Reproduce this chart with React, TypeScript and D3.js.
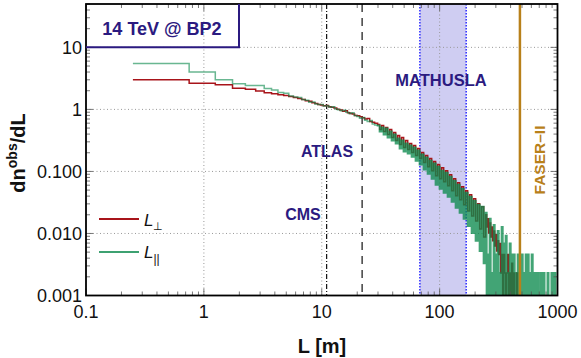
import React from 'react';
import * as d3 from 'd3';

// histogram of observed decay length, 14 TeV @ BP2
// step starts (m) and dn/dL values, read off the figure

const perpL = [0.25, 0.75, 1.25, 1.75, 2.25, 2.75, 3.25, 3.75, 4.25, 4.75, 5.25, 5.75, 6.25, 6.75, 7.25, 7.75, 8.25, 8.75, 9.25,
  9.75, 10.3, 10.8, 11.4, 12.0, 12.7, 13.4, 14.2, 15.0, 15.7, 16.5, 17.3, 18.2, 19.0, 20.0, 21.0, 22.0, 23.1, 24.3, 25.5, 26.8, 28.1];
const perpV = [3.0, 2.65, 2.5, 2.2, 2.12, 1.98, 1.85, 1.78, 1.72, 1.68, 1.62, 1.55, 1.5, 1.45, 1.38, 1.35, 1.28, 1.25, 1.2,
  1.18, 1.14, 1.16, 1.1, 1.08, 1.05, 1.01, 0.98, 0.93, 0.95, 0.88, 0.86, 0.84, 0.8, 0.79, 0.76, 0.73, 0.7, 0.71, 0.64, 0.62, 0.6];

const parL = [0.25, 0.75, 1.25, 1.75, 2.25, 2.75, 3.25, 3.75, 4.25, 4.75, 5.25, 5.75, 6.25, 6.75, 7.25, 7.75, 8.25, 8.75, 9.25,
  9.75, 10.3, 10.9, 11.5, 12.2, 12.9, 13.6, 14.4, 15.2, 16.0, 16.9, 17.8, 18.8, 19.8, 20.9, 22.0, 23.1, 24.3, 25.5, 26.8, 28.1];
const parV = [5.5, 4.0, 3.0, 2.6, 2.42, 2.42, 2.17, 2.05, 1.88, 1.82, 1.65, 1.58, 1.55, 1.45, 1.4, 1.3, 1.32, 1.22, 1.2,
  1.2, 1.13, 1.15, 1.08, 1.1, 1.02, 0.99, 0.95, 0.97, 0.9, 0.86, 0.88, 0.8, 0.77, 0.72, 0.74, 0.67, 0.64, 0.66, 0.58, 0.56];

// the noisy tail (shared L positions for both series)
const tailL = [29.8, 31.0, 32.2, 33.5, 34.9, 36.2, 37.7, 39.2, 40.8, 42.4, 44.1, 45.8, 47.6, 49.5, 51.5, 53.6, 55.7, 57.9,
  60.2, 62.6, 65.1, 67.7, 70.4, 73.2, 76.1, 79.2, 82.3, 85.6, 89.0, 92.5, 96.2, 100, 104, 108.2, 112.5, 117, 121.6, 126.5,
  131.5, 136.8, 142.2, 147.9, 153.8, 159.9, 166.3, 172.9, 179.8, 187, 194.4, 202.2, 210.2, 218.6, 227.3, 236.4,
  245.8, 250.6, 255.6, 260.6, 265.8, 271.0, 276.4, 281.8, 287.4, 293.1, 298.9, 304.8, 310.8, 316.9, 323.2, 329.5, 336.0,
  342.7, 349.4, 356.3, 363.4, 370.5, 377.8, 385.3, 392.9, 400.6, 408.6, 416.6, 424.8, 433.2, 441.8, 450.5, 459.4, 468.4,
  477.7, 487.1, 496.7, 506.5, 516.5, 526.7, 537.1, 547.7, 558.5, 569.5, 580.8, 592.2, 604.0, 615.9, 628.0, 640.4, 653.1,
  666.0, 679.1, 690, 718, 732, 761, 776, 823, 839, 889, 907, 943, 962, 980];

const perpTail = [0.571, 0.474, 0.551, 0.44, 0.511, 0.394, 0.474, 0.352, 0.424, 0.315, 0.379, 0.271, 0.352, 0.242, 0.315,
  0.225, 0.281, 0.201, 0.261, 0.18, 0.234, 0.161, 0.201, 0.139, 0.18, 0.119, 0.161, 0.103, 0.144, 0.0853, 0.129, 0.0763,
  0.115, 0.0682, 0.103, 0.0588, 0.0886, 0.0488, 0.0763, 0.0405, 0.0658, 0.0349, 0.0566, 0.029, 0.0488, 0.0231, 0.0421,
  0.0192, 0.0362, 0.0159, 0.0301, 0.0118, 0.0269, 0.0088,
  0.02, 0.0127, 0.0172, 0.0102, 0.0148, 0.0088, 0.0127, 0.0076, 0.011, 0.0063, 0.0095, 0.0052, 0.0076, 0.0046, 0.0069,
  0.0023, 0.0046, 0, 0.0046, 0.0023, 0, 0.0023, 0.0046, 0, 0.0023, 0, 0.0033, 0, 0.0023, 0, 0, 0.0023, 0, 0, 0];

const parTail = [0.551, 0.44, 0.511, 0.394, 0.492, 0.352, 0.44, 0.315, 0.394, 0.281, 0.339, 0.234, 0.315, 0.209, 0.281,
  0.194, 0.261, 0.173, 0.242, 0.149, 0.217, 0.129, 0.187, 0.107, 0.167, 0.092, 0.149, 0.0763, 0.134, 0.061, 0.119,
  0.0526, 0.103, 0.0453, 0.0955, 0.039, 0.0822, 0.0324, 0.0708, 0.0259, 0.061, 0.0215, 0.0526, 0.0172, 0.0453, 0.0132,
  0.039, 0.0102, 0.0336, 0.0076, 0.029, 0.0052, 0.0269, 0.0033,
  0.0215, 0, 0.0046, 0, 0.0172, 0, 0.0023, 0, 0.0137, 0, 0.0046, 0, 0.011, 0, 0.0023, 0, 0.0127, 0, 0.0069, 0,
  0.0092, 0, 0.0023, 0, 0.0069, 0, 0.0046, 0, 0.0046, 0, 0.0023, 0, 0.0046, 0, 0.0023, 0, 0.0046, 0, 0.0023, 0,
  0.0046, 0, 0.0046, 0, 0.0023, 0, 0.0046, 0, 0.0023, 0, 0.0023, 0, 0.0023,
  0, 0.0023, 0, 0.0023, 0, 0.0023, 0, 0.0023, 0, 0.0023, 0];

const xTicks = [0.1, 1, 10, 100, 1000];
const xTickLabels = ['0.1', '1', '10', '100', '1000'];
const yTicks = [0.001, 0.01, 0.1, 1, 10];
const yTickLabels = ['0.001', '0.010', '0.100', '1', '10'];

const detectorL = [11, 22];
const mathuslaRange = [68, 168];
const faserL = 480;

const W = 581;
const H = 358;
const plot = { left: 86, right: 557.5, top: 4, bottom: 295.5 };

const RED = '#a8141a';
const GREEN = '#0d8a4e';
const NAVY = '#2b1a80';
const GOLD = '#b8801a';
const FONT = 'Liberation Sans, Arial, Helvetica, sans-serif';

type Pt = [number, number];

const x = d3.scaleLog().domain([0.1, 1000]).range([plot.left, plot.right]);
const y = d3.scaleLog().domain([0.001, 50]).range([plot.bottom, plot.top]);
const yPos = (v: number) => (v > 0 ? y(v) : plot.bottom + 1);

const zipPts = (L: number[], V: number[]): Pt[] => V.map((v, i) => [L[i], v] as Pt);

const stepLine = d3.line<Pt>()
  .x(d => x(d[0]))
  .y(d => yPos(d[1]))
  .curve(d3.curveStepAfter);

const minorX: number[] = [];
[0.1, 1, 10, 100].forEach(dec => { for (let k = 2; k <= 9; k++) minorX.push(dec * k); });
const minorY: number[] = [];
[0.001, 0.01, 0.1, 1, 10].forEach(dec => { for (let k = 2; k <= 9; k++) if (dec * k <= 50) minorY.push(dec * k); });

export default function App() {
  // perpendicular: one path
  const perpPts = [...zipPts(perpL, perpV), ...zipPts(tailL, perpTail)];
  perpPts.push([tailL[perpTail.length], perpTail[perpTail.length - 1]]);

  // parallel: smooth head + dense tail drawn a bit thicker
  const parHead = zipPts(parL, parV);
  parHead.push([tailL[0], parV[parV.length - 1]]);
  const parTailPts: Pt[] = [[tailL[0], parV[parV.length - 1]], ...zipPts(tailL, parTail)];
  parTailPts.push([tailL[parTail.length], parTail[parTail.length - 1]]);

  const tickColor = '#555';

  return (
    <svg width={W} height={H} style={{ position: 'absolute', left: 0, top: 0 }} fontFamily={FONT}>
      <defs>
        <clipPath id="plotClip">
          <rect x={plot.left} y={plot.top} width={plot.right - plot.left} height={plot.bottom - plot.top} />
        </clipPath>
      </defs>

      {/* MATHUSLA band */}
      <rect x={x(mathuslaRange[0])} y={plot.top} width={x(mathuslaRange[1]) - x(mathuslaRange[0])}
        height={plot.bottom - plot.top} fill="#cfcdf2" />

      {/* grid */}
      {xTicks.slice(1, -1).map(t => (
        <line key={'gx' + t} x1={x(t)} x2={x(t)} y1={plot.top} y2={plot.bottom}
          stroke="#999" strokeWidth={1} strokeDasharray="1,2.5" />
      ))}
      {yTicks.slice(1).map(t => (
        <line key={'gy' + t} x1={plot.left} x2={plot.right} y1={y(t)} y2={y(t)}
          stroke="#999" strokeWidth={1} strokeDasharray="1,2.5" />
      ))}

      {/* detector radii */}
      <line x1={x(detectorL[0])} x2={x(detectorL[0])} y1={plot.top} y2={plot.bottom}
        stroke="#111" strokeWidth={1.2} strokeDasharray="5,2,1,2" />
      <line x1={x(detectorL[1])} x2={x(detectorL[1])} y1={plot.top} y2={plot.bottom}
        stroke="#111" strokeWidth={1.2} strokeDasharray="8,6" />

      {mathuslaRange.map(v => (
        <line key={'m' + v} x1={x(v)} x2={x(v)} y1={plot.top} y2={plot.bottom}
          stroke="#1010ff" strokeWidth={1.3} strokeDasharray="1.5,1.5" />
      ))}

      <g clipPath="url(#plotClip)">
        <path d={stepLine(perpPts) || ''} fill="none" stroke={RED} strokeWidth={1.5} />
        <path d={stepLine(parHead) || ''} fill="none" stroke={GREEN} strokeWidth={1.5} strokeOpacity={0.62} />
        <path d={stepLine(parTailPts) || ''} fill="none" stroke={GREEN} strokeWidth={2} strokeOpacity={0.78} />
      </g>

      <line x1={x(faserL)} x2={x(faserL)} y1={plot.top} y2={plot.bottom} stroke={GOLD} strokeWidth={2.5} />

      {/* labels */}
      <text x={441} y={86} textAnchor="middle" fontWeight="bold" fontSize={16.5} fill={NAVY}>MATHUSLA</text>
      <text x={327} y={157} textAnchor="middle" fontWeight="bold" fontSize={16} fill={NAVY}>ATLAS</text>
      <text x={303} y={220} textAnchor="middle" fontWeight="bold" fontSize={16} fill={NAVY}>CMS</text>
      <text transform="translate(545,160) rotate(-90)" textAnchor="middle" fontWeight="bold" fontSize={15.5} fill={GOLD}>FASER–II</text>

      {/* ticks */}
      {minorX.map(t => (
        <g key={'mx' + t} stroke={tickColor} strokeWidth={0.8}>
          <line x1={x(t)} x2={x(t)} y1={plot.bottom} y2={plot.bottom - 4} />
          <line x1={x(t)} x2={x(t)} y1={plot.top} y2={plot.top + 4} />
        </g>
      ))}
      {xTicks.map(t => (
        <g key={'Mx' + t} stroke={tickColor} strokeWidth={0.8}>
          <line x1={x(t)} x2={x(t)} y1={plot.bottom} y2={plot.bottom - 7} />
          <line x1={x(t)} x2={x(t)} y1={plot.top} y2={plot.top + 7} />
        </g>
      ))}
      {minorY.map(t => (
        <g key={'my' + t} stroke={tickColor} strokeWidth={0.8}>
          <line x1={plot.left} x2={plot.left + 4} y1={y(t)} y2={y(t)} />
          <line x1={plot.right} x2={plot.right - 4} y1={y(t)} y2={y(t)} />
        </g>
      ))}
      {yTicks.map(t => (
        <g key={'My' + t} stroke={tickColor} strokeWidth={0.8}>
          <line x1={plot.left} x2={plot.left + 7} y1={y(t)} y2={y(t)} />
          <line x1={plot.right} x2={plot.right - 7} y1={y(t)} y2={y(t)} />
        </g>
      ))}

      {/* frame */}
      <rect x={plot.left} y={plot.top} width={plot.right - plot.left} height={plot.bottom - plot.top}
        fill="none" stroke="#000" strokeWidth={1.8} />

      {/* title box */}
      <path d={`M${plot.left},${y(10)}H239V${plot.top}`} fill="none" stroke={NAVY} strokeWidth={2} />
      <text x={162} y={35} textAnchor="middle" fontWeight="bold" fontSize={18} fill={NAVY}>14 TeV @ BP2</text>

      {/* tick labels */}
      {xTicks.map((t, i) => (
        <text key={'lx' + t} x={x(t)} y={318} textAnchor="middle" fontSize={18} fill="#111">{xTickLabels[i]}</text>
      ))}
      {yTicks.map((t, i) => (
        <text key={'ly' + t} x={82} y={y(t)} dy="0.35em" textAnchor="end" fontSize={18} fill="#111">{yTickLabels[i]}</text>
      ))}

      {/* axis titles */}
      <text x={322} y={353} textAnchor="middle" fontWeight="bold" fontSize={20} fill="#111">L [m]</text>
      <text transform="translate(25,153) rotate(-90)" textAnchor="middle" fontWeight="bold" fontSize={20} fill="#111">
        dn<tspan dy={-8} fontSize={14}>obs</tspan><tspan dy={8}>/dL</tspan>
      </text>

      {/* legend */}
      <line x1={99} x2={139} y1={219} y2={219} stroke={RED} strokeWidth={2} />
      <line x1={99} x2={139} y1={252} y2={252} stroke={GREEN} strokeWidth={2} strokeOpacity={0.8} />
      <text x={144} y={226} fontSize={17} fontStyle="italic" fill="#111">L<tspan dy={4} fontSize={11} fontStyle="normal">⊥</tspan></text>
      <text x={144} y={258} fontSize={17} fontStyle="italic" fill="#111">L<tspan dy={5} fontSize={12} fontStyle="normal">||</tspan></text>
    </svg>
  );
}
